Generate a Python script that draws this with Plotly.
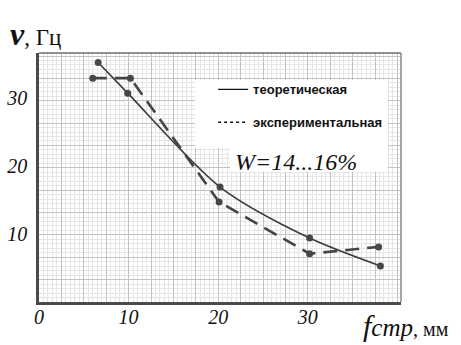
import plotly.graph_objects as go

# --- data ---
theo_x = [6.6, 9.9, 20.2, 30.2, 38.1]
theo_y = [35.2, 30.7, 16.9, 9.4, 5.3]
exp_x = [6.0, 10.2, 20.1, 30.2, 37.9]
exp_y = [32.9, 32.9, 14.7, 7.1, 8.1]
x_ticks = [0, 10, 20, 30]
y_ticks = [10, 20, 30]
legend_names = ["теоретическая", "экспериментальная"]
note_text = "W=14...16%"

X_RANGE = [0, 40.4]
Y_RANGE = [0, 36.6]
SERIF = "Liberation Serif"

fig = go.Figure()

# data traces (on grid axes)
fig.add_trace(go.Scatter(
    x=theo_x, y=theo_y, mode="lines+markers", line_shape="spline",
    line=dict(color="#3a3a3a", width=1.6, smoothing=0.8),
    marker=dict(color="#474747", size=7), showlegend=False, hoverinfo="skip"))
fig.add_trace(go.Scatter(
    x=exp_x, y=exp_y, mode="lines+markers",
    line=dict(color="#444444", width=2.6, dash="14px,8px"),
    marker=dict(color="#474747", size=7), showlegend=False, hoverinfo="skip"))

# legend-only traces
fig.add_trace(go.Scatter(
    x=[None], y=[None], mode="lines", name=legend_names[0], legendgroup="a",
    line=dict(color="#111111", width=1.3)))
fig.add_trace(go.Scatter(
    x=[None], y=[None], mode="lines", name=legend_names[1], legendgroup="b",
    line=dict(color="#111111", width=1.3, dash="3px,3px")))

# dummy trace for label axes
fig.add_trace(go.Scatter(x=[None], y=[None], xaxis="x2", yaxis="y2",
                         showlegend=False, hoverinfo="skip"))

major_grid = "#c2c2c2"
minor_grid = "#e6e6e6"

fig.update_layout(
    width=461, height=345,
    margin=dict(l=39, r=60, t=53, b=43, autoexpand=False),
    paper_bgcolor="white", plot_bgcolor="white",
    showlegend=True,
    legend=dict(x=0.481, y=0.914, xanchor="left", yanchor="top",
                bgcolor="rgba(0,0,0,0)", tracegroupgap=13,
                traceorder="grouped",
                font=dict(family="Liberation Sans", size=13, color="#111111",
                          weight="bold")),
    xaxis=dict(range=X_RANGE, tick0=0, dtick=2.5, showgrid=True,
               gridcolor=major_grid, gridwidth=1, showticklabels=False,
               ticks="", zeroline=False, showline=False, automargin=False,
               minor=dict(tick0=0, dtick=0.5, showgrid=True,
                          gridcolor=minor_grid, gridwidth=1)),
    yaxis=dict(range=Y_RANGE, tick0=0, dtick=3.287, showgrid=True,
               gridcolor=major_grid, gridwidth=1, showticklabels=False,
               ticks="", zeroline=False, showline=False, automargin=False,
               minor=dict(tick0=0, dtick=0.6574, showgrid=True,
                          gridcolor=minor_grid, gridwidth=1)),
    xaxis2=dict(range=X_RANGE, overlaying="x", anchor="y2", side="bottom",
                tickmode="array", tickvals=x_ticks,
                ticktext=[f"<i>{v}</i>" for v in x_ticks],
                tickfont=dict(family=SERIF, size=20, color="#111111"),
                ticks="", showgrid=False, zeroline=False, automargin=False,
                showline=True, linecolor="#4a4a4a", linewidth=2.5,
                ticklabelstandoff=-5),
    yaxis2=dict(range=Y_RANGE, overlaying="y", anchor="x2", side="left",
                tickmode="array", tickvals=y_ticks,
                ticktext=[f"<i>{v}</i>" for v in y_ticks],
                tickfont=dict(family=SERIF, size=20, color="#111111"),
                ticks="", showgrid=False, zeroline=False, automargin=False,
                showline=True, linecolor="#4a4a4a", linewidth=2.5,
                ticklabelstandoff=5),
)

# top / right borders of the paper grid
fig.add_shape(type="line", xref="paper", yref="paper", x0=0, x1=1, y0=1, y1=1,
              line=dict(color="#6e6e6e", width=1.5))
fig.add_shape(type="line", xref="paper", yref="paper", x0=1, x1=1, y0=0, y1=1,
              line=dict(color="#8a8a8a", width=1.5))

# white label box over the grid
fig.add_shape(type="rect", xref="paper", yref="paper", x0=0.431, x1=0.964,
              y0=0.618, y1=0.892, fillcolor="white", line=dict(width=0),
              layer="above")
fig.add_shape(type="rect", xref="paper", yref="paper", x0=0.528, x1=0.964,
              y0=0.522, y1=0.62, fillcolor="white", line=dict(width=0),
              layer="above")

# annotations
fig.add_annotation(xref="paper", yref="paper", x=0.71, y=0.562,
                   xanchor="center", yanchor="middle",
                   text=f"<i>{note_text}</i>", showarrow=False,
                   font=dict(family=SERIF, size=24, color="#111111"))
fig.add_annotation(xref="paper", yref="paper", x=-0.086, y=1.076,
                   xanchor="left", yanchor="middle", showarrow=False,
                   text="<b><i><span style='font-size:32px'>ν</span></i></b>, Гц",
                   font=dict(family=SERIF, size=23, color="#111111"))
fig.add_annotation(xref="paper", yref="paper", x=0.89, y=-0.095,
                   xanchor="left", yanchor="middle", showarrow=False,
                   text="<i>f<span style='font-size:25px'>стр</span></i>"
                        "<span style='font-size:20px'>, мм</span>",
                   font=dict(family=SERIF, size=30, color="#111111"))

fig.write_html("out.html",
               config={"displayModeBar": False},
               post_script="document.body.style.margin='0';"
                           "document.body.style.padding='0';")
